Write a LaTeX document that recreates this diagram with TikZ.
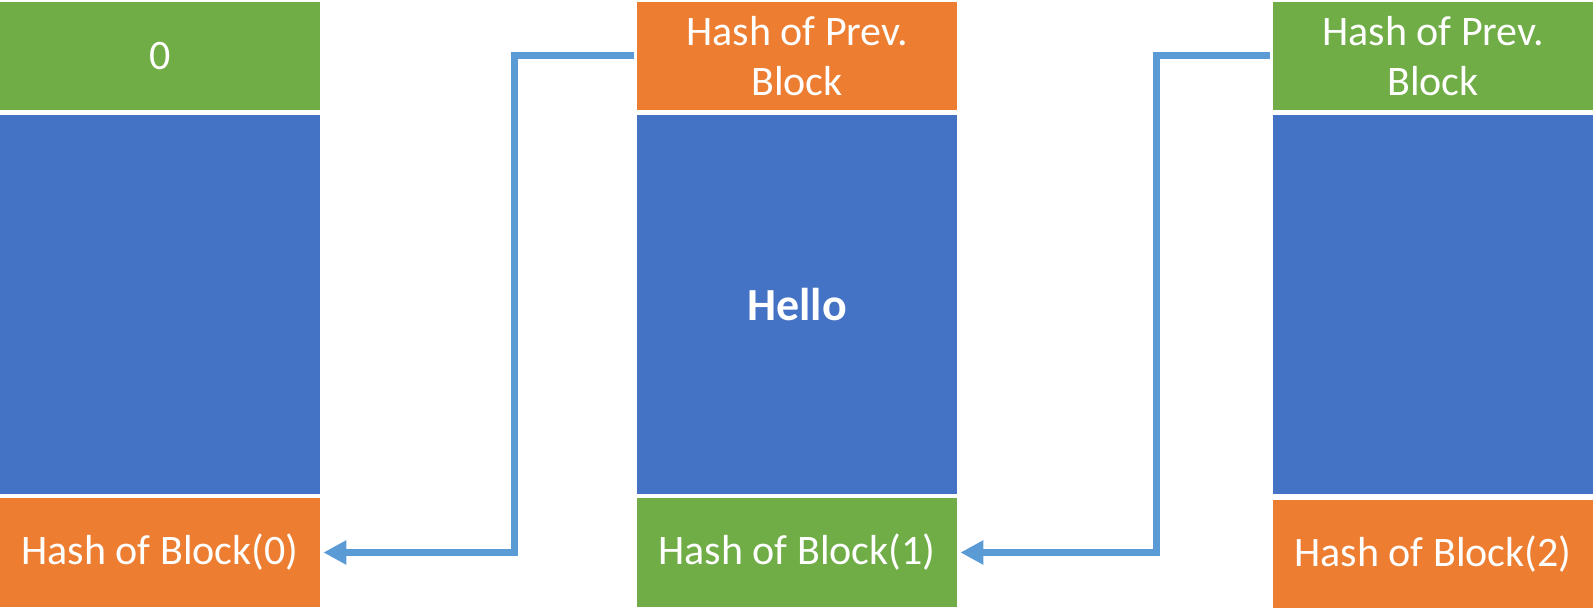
\documentclass[tikz,border=0pt]{standalone}
\usepackage{fontspec}
\setmainfont{Carlito}
\usepackage{xcolor}
\usetikzlibrary{arrows.meta}
\definecolor{hgreen}{HTML}{70AD47}
\definecolor{horange}{HTML}{ED7D31}
\definecolor{hblue}{HTML}{4472C4}
\definecolor{hlink}{HTML}{5B9BD5}

\begin{document}
\begin{tikzpicture}[x=0.5pt,y=-0.5pt]
    \tikzstyle{cell}=[rectangle,inner sep=0pt,minimum width=160pt,text=white,font=\fontsize{21}{25}\selectfont,align=center]
    \tikzstyle{link}=[draw=hlink,line width=3.5pt,-{Triangle[length=11.5pt,width=11.5pt]},shorten >=1.5pt,shorten <=1.5pt]

    \useasboundingbox (0,0) rectangle (1594,608);

    % block 0
    \node[cell,fill=hgreen,minimum height=54pt]    (top0)  at (160,56)    {0};
    \node[cell,fill=hblue,minimum height=189.5pt]  (body0) at (160,304.5) {};
    \node[cell,fill=horange,minimum height=54.5pt] (hash0) at (160,552.5) {Hash of Block(0)};

    % block 1
    \node[cell,fill=horange,minimum height=54pt]   (top1)  at (797,56)    {Hash of Prev.\\Block};
    \node[cell,fill=hblue,minimum height=189.5pt,font=\fontsize{23}{27}\selectfont\bfseries] (body1) at (797,304.5) {Hello};
    \node[cell,fill=hgreen,minimum height=54.5pt]  (hash1) at (797,552.5) {Hash of Block(1)};

    % block 2
    \node[cell,fill=hgreen,minimum height=54pt]    (top2)  at (1433,56)    {Hash of Prev.\\Block};
    \node[cell,fill=hblue,minimum height=189.5pt]  (body2) at (1433,304.5) {};
    \node[cell,fill=horange,minimum height=54pt]   (hash2) at (1433,554)   {Hash of Block(2)};

    % links back to the previous block
    \coordinate (bend1) at (514,56);
    \coordinate (bend2) at (1156,56);
    \draw[link] (top1.west) -- (bend1) |- (hash0.east);
    \draw[link] (top2.west) -- (bend2) |- (hash1.east);
\end{tikzpicture}
\end{document}
